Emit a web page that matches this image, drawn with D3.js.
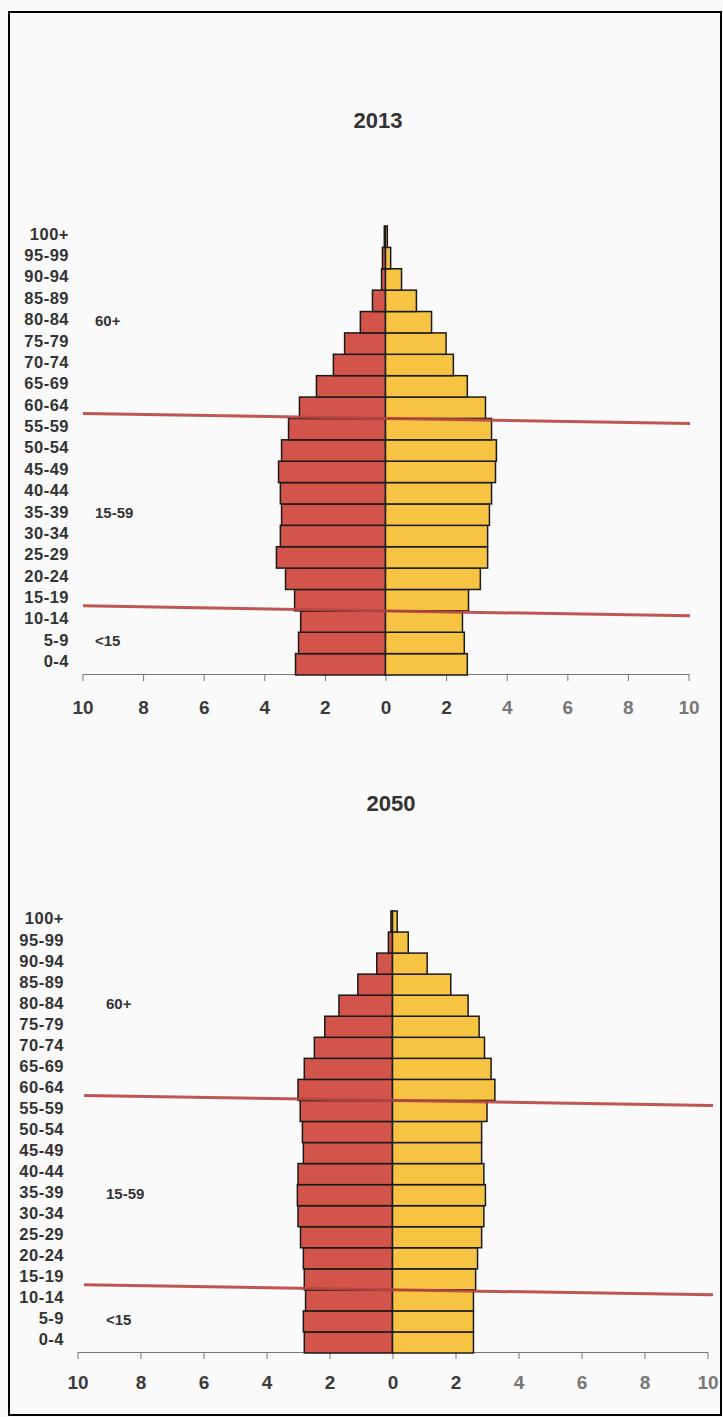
<!DOCTYPE html>
<html>
<head>
<meta charset="utf-8">
<script src="https://cdn.jsdelivr.net/npm/d3@7"></script>
<style>
  html, body { margin: 0; padding: 0; background: #fafafa; }
  svg { display: block; }
  text { font-family: "Liberation Sans", Arial, sans-serif; }
</style>
</head>
<body>
<svg id="chart" width="723" height="1417"></svg>
<script>
// ---------- DATA ----------
const ages = ["0-4","5-9","10-14","15-19","20-24","25-29","30-34","35-39","40-44","45-49",
              "50-54","55-59","60-64","65-69","70-74","75-79","80-84","85-89","90-94","95-99","100+"];
const left2013  = [2.97, 2.87, 2.80, 3.00, 3.30, 3.60, 3.47, 3.43, 3.47, 3.53, 3.43, 3.20, 2.84, 2.28, 1.72, 1.35, 0.83, 0.43, 0.13, 0.10, 0.04];
const right2013 = [2.70, 2.60, 2.54, 2.74, 3.13, 3.37, 3.37, 3.43, 3.50, 3.63, 3.66, 3.50, 3.30, 2.70, 2.24, 2.00, 1.52, 1.02, 0.53, 0.17, 0.06];
const left2050  = [2.80, 2.83, 2.76, 2.80, 2.83, 2.92, 3.00, 3.02, 3.00, 2.83, 2.86, 2.93, 3.00, 2.80, 2.48, 2.15, 1.70, 1.10, 0.50, 0.13, 0.05];
const right2050 = [2.57, 2.57, 2.57, 2.64, 2.70, 2.83, 2.90, 2.95, 2.90, 2.83, 2.83, 3.00, 3.25, 3.13, 2.92, 2.75, 2.40, 1.85, 1.10, 0.50, 0.15];
const tickValues = [-10, -8, -6, -4, -2, 0, 2, 4, 6, 8, 10];
const groupLabels = [{text: "60+", age: "80-84"}, {text: "15-59", age: "35-39"}, {text: "<15", age: "5-9"}];
// group boundaries: line drawn between these two adjacent age groups
const boundaries = [["55-59", "60-64"], ["10-14", "15-19"]];

// ---------- LAYOUT ----------
const panels = [
  {title: "2013", left: left2013, right: right2013,
   titleX: 378, titleY: 128, x0: 82.5, x1: 688.5, yTop: 226, yBottom: 675,
   labelX: 69, groupX: 95, lineX0: 83, lineX1: 690, tickPad: 20},
  {title: "2050", left: left2050, right: right2050,
   titleX: 391, titleY: 811, x0: 77.5, x1: 707.5, yTop: 911, yBottom: 1353,
   labelX: 64, groupX: 106, lineX0: 84, lineX1: 713, tickPad: 17}
];
const colors = {left: "#d2544b", right: "#f6c343", line: "#b8463f", stroke: "#1a1a1a"};

const svg = d3.select("#chart");

// border
svg.append("rect").attr("x", 9).attr("y", 12).attr("width", 712).attr("height", 1403)
  .attr("fill", "none").attr("stroke", "#000").attr("stroke-width", 2);

panels.forEach(p => {
  const g = svg.append("g");
  const x = d3.scaleLinear().domain([-10, 10]).range([p.x0, p.x1]);
  const y = d3.scaleBand().domain(ages.slice().reverse()).range([p.yTop, p.yBottom]).padding(0);

  // title
  g.append("text").attr("x", p.titleX).attr("y", p.titleY).attr("text-anchor", "middle")
    .attr("font-size", 22).attr("font-weight", "bold").attr("fill", "#333").text(p.title);

  // axis
  const axis = d3.axisBottom(x).tickValues(tickValues).tickFormat(d => Math.abs(d))
    .tickSize(7).tickSizeOuter(0).tickPadding(p.tickPad);
  const ax = g.append("g").attr("transform", `translate(0,${p.yBottom - 1})`).call(axis);
  ax.select(".domain").attr("stroke", "#777").attr("stroke-width", 1);
  ax.selectAll(".tick line").attr("stroke", "#777");
  ax.selectAll(".tick text").attr("font-size", 19).attr("font-weight", "bold")
    .attr("font-family", "'Liberation Sans', Arial, sans-serif")
    .attr("fill", d => d > 2 ? "#777" : "#3a3a3a");

  // bars
  const rows = ages.map((a, i) => ({age: a, l: p.left[i], r: p.right[i]}));
  g.selectAll(".bl").data(rows).join("rect")
    .attr("x", d => x(-d.l)).attr("y", d => y(d.age))
    .attr("width", d => x(0) - x(-d.l)).attr("height", y.bandwidth())
    .attr("fill", colors.left).attr("stroke", colors.stroke).attr("stroke-width", 1.5);
  g.selectAll(".br").data(rows).join("rect")
    .attr("x", x(0)).attr("y", d => y(d.age))
    .attr("width", d => x(d.r) - x(0)).attr("height", y.bandwidth())
    .attr("fill", colors.right).attr("stroke", colors.stroke).attr("stroke-width", 1.5);

  // age labels
  g.selectAll(".age").data(ages).join("text")
    .attr("x", p.labelX).attr("y", d => y(d) + y.bandwidth() / 2 - 3)
    .attr("dy", "0.36em").attr("text-anchor", "end")
    .attr("font-size", 16.5).attr("font-weight", "bold").attr("letter-spacing", 0.5)
    .attr("fill", "#333").text(d => d);

  // group labels
  g.selectAll(".grp").data(groupLabels).join("text")
    .attr("x", p.groupX).attr("y", d => y(d.age) + y.bandwidth() / 2 - 2)
    .attr("dy", "0.36em").attr("font-size", 15).attr("font-weight", 600)
    .attr("fill", "#333").text(d => d.text);

  // group boundary lines (slightly tilted as in the scan)
  g.selectAll(".bnd").data(boundaries).join("line")
    .attr("x1", p.lineX0).attr("x2", p.lineX1)
    .attr("y1", d => y(d[1]) + y.bandwidth() - 5)
    .attr("y2", d => y(d[1]) + y.bandwidth() + 5)
    .attr("stroke", colors.line).attr("stroke-width", 3).attr("opacity", 0.9);
});
</script>
</body>
</html>
